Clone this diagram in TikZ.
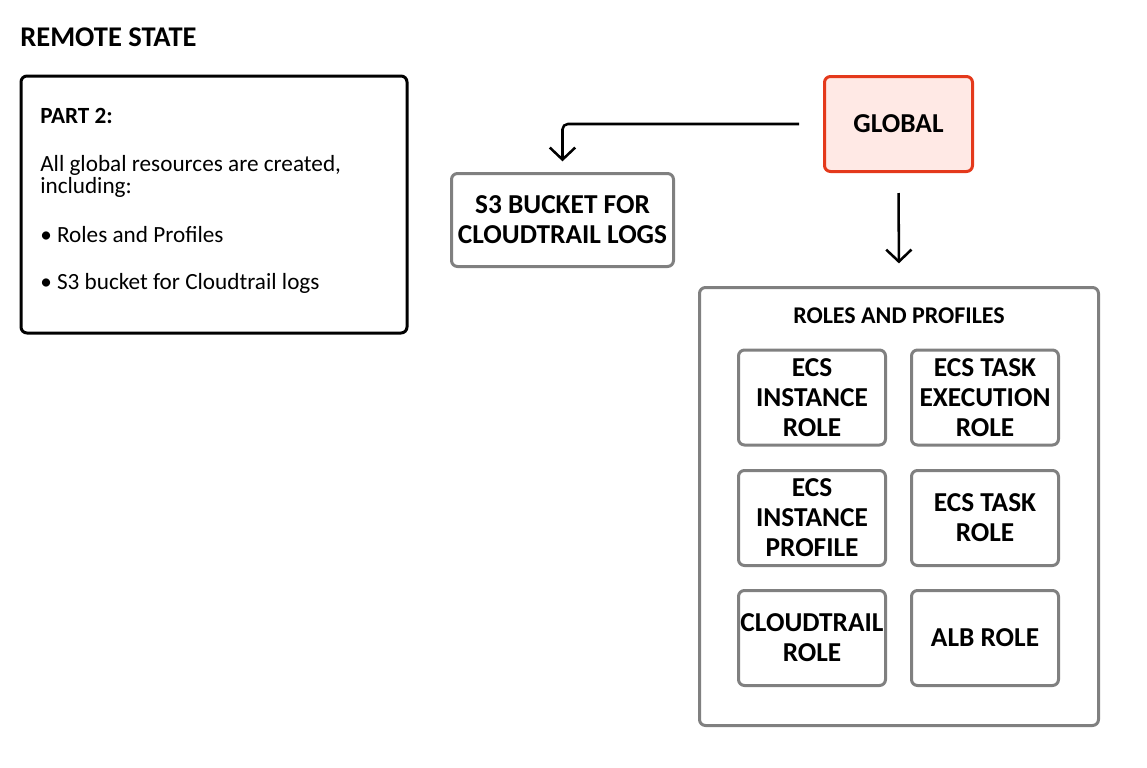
\documentclass[tikz,border=0pt]{standalone}
\usepackage{fontspec}
\setmainfont{Carlito}
\usetikzlibrary{arrows.meta}
\definecolor{grayline}{HTML}{808080}
\definecolor{redline}{HTML}{E4391B}
\definecolor{redfill}{HTML}{FFE9E5}
\begin{document}
\begin{tikzpicture}[x=0.75pt,y=-0.75pt,
  box/.style={draw, rounded corners=4.5pt, line width=2.25pt, align=center, inner sep=0pt},
  sz/.style 2 args={minimum width=#1*0.75pt, minimum height=#2*0.75pt},
  lbl/.style={font=\fontsize{20.5}{22.5}\selectfont\bfseries},
  graybox/.style={box, draw=grayline, fill=white},
  roleitem/.style={graybox, lbl, sz={147}{95}},
  bodytxt/.style={anchor=base west, inner sep=0pt, font=\fontsize{17.4}{20}\selectfont},
  conn/.style={line width=1.9pt, rounded corners=4pt, -{Straight Barb[length=9pt,width=19pt]}}]
\useasboundingbox (0,0) rectangle (1147,768);

% title
\node[anchor=base west, inner sep=0pt, font=\fontsize{21.4}{24}\selectfont\bfseries] (title) at (20,46) {REMOTE STATE};

% left description box
\node[box, draw=black, sz={386}{257}] (part) at (214,204.5) {};
\node[bodytxt, font=\fontsize{17.4}{20}\selectfont\bfseries] (p2) at (40,123) {PART 2:};
\node[bodytxt] (l1) at (40,171) {All global resources are created,};
\node[bodytxt] (l2) at (40,193) {including:};
\node[bodytxt] (b1) at (40,242) {• Roles and Profiles};
\node[bodytxt] (b2) at (40,289) {• S3 bucket for Cloudtrail logs};

% global
\node[box, draw=redline, fill=redfill, lbl, sz={148}{95}] (global) at (898.5,124) {GLOBAL};

% s3 bucket
\node[graybox, lbl, sz={222}{93}] (s3) at (562.5,220) {S3 BUCKET FOR\\CLOUDTRAIL LOGS};

% roles container
\node[graybox, sz={399}{438}] (roles) at (899,506.5) {};
\node[anchor=base, inner sep=0pt, font=\fontsize{18}{20}\selectfont\bfseries] (rlabel) at (899,323) {ROLES AND PROFILES};

\node[roleitem] (r1) at (812,397.5) {ECS\\INSTANCE\\ROLE};
\node[roleitem] (r2) at (985,397.5) {ECS TASK\\EXECUTION\\ROLE};
\node[roleitem] (r3) at (812,518) {ECS\\INSTANCE\\PROFILE};
\node[roleitem] (r4) at (985,518) {ECS TASK\\ROLE};
\node[roleitem] (r5) at (812,638) {CLOUDTRAIL\\ROLE};
\node[roleitem] (r6) at (985,638) {ALB ROLE};

% connectors
\draw[conn, shorten <=18pt, shorten >=8pt] (global.west) -- (s3.north |- global.west) -- (s3.north);
\draw[conn, shorten <=15pt, shorten >=17pt] (global.south) -- (roles.north);
\end{tikzpicture}
\end{document}
